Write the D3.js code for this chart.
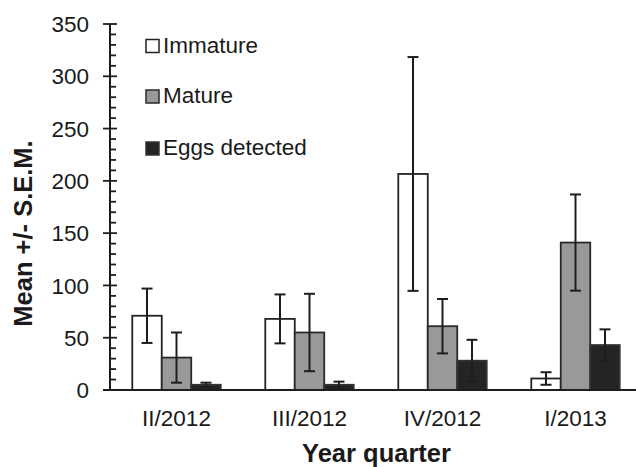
<!DOCTYPE html>
<html>
<head>
<meta charset="utf-8">
<script src="https://cdn.jsdelivr.net/npm/d3@7/dist/d3.min.js"></script>
<style>
  html, body { margin: 0; padding: 0; background: #fff; }
  svg { display: block; }
  text { font-family: "Liberation Sans", Arial, sans-serif; fill: #1a1a1a; }
</style>
</head>
<body>
<svg id="chart" width="636" height="467"></svg>
<script>
const categories = ["II/2012", "III/2012", "IV/2012", "I/2013"];
const seriesNames = ["Immature", "Mature", "Eggs detected"];
const immatureMean = [71, 68, 206.6, 11];
const immatureSem  = [26, 23.4, 111.8, 6];
const matureMean   = [31, 55, 61, 141];
const matureSem    = [24, 37, 26, 46];
const eggsMean     = [5, 5, 28, 43];
const eggsSem      = [2, 3, 20, 15];
const yTicks = [0, 50, 100, 150, 200, 250, 300, 350];

const means = [immatureMean, matureMean, eggsMean];
const sems = [immatureSem, matureSem, eggsSem];
const fills = ["#ffffff", "#999999", "#242424"];
const strokes = ["#222222", "#2a2a2a", "#333333"];

const svg = d3.select("#chart");

const y = d3.scaleLinear().domain([0, 350]).range([390, 24]);
const x = d3.scaleBand().domain(categories).range([110, 642])
  .paddingInner(0.335).paddingOuter(0.1675);
const xs = d3.scaleBand().domain(seriesNames).range([0, x.bandwidth()]);

// bars
seriesNames.forEach((s, si) => {
  const g = svg.append("g");
  categories.forEach((c, ci) => {
    const v = means[si][ci];
    g.append("rect")
      .attr("x", x(c) + xs(s))
      .attr("y", y(v))
      .attr("width", xs.bandwidth())
      .attr("height", y(0) - y(v))
      .attr("fill", fills[si])
      .attr("stroke", strokes[si])
      .attr("stroke-width", 1.8);
  });
});

// error bars
seriesNames.forEach((s, si) => {
  categories.forEach((c, ci) => {
    const cx = x(c) + xs(s) + xs.bandwidth() / 2;
    const hi = y(means[si][ci] + sems[si][ci]);
    const lo = y(Math.max(0, means[si][ci] - sems[si][ci]));
    const eb = svg.append("g").attr("stroke", "#1e1e1e").attr("stroke-width", 2);
    eb.append("line").attr("x1", cx).attr("x2", cx).attr("y1", hi).attr("y2", lo);
    eb.append("line").attr("x1", cx - 5.5).attr("x2", cx + 5.5).attr("y1", hi).attr("y2", hi);
    eb.append("line").attr("x1", cx - 5.5).attr("x2", cx + 5.5).attr("y1", lo).attr("y2", lo);
  });
});

// y axis: minor ticks
const minor = d3.range(0, 351, 10).filter(v => v % 50 !== 0);
const yAxisG = svg.append("g").attr("stroke", "#1e1e1e");
yAxisG.append("line").attr("x1", 110).attr("x2", 110).attr("y1", y(350)).attr("y2", y(0)).attr("stroke-width", 2);
minor.forEach(v => {
  yAxisG.append("line").attr("x1", 110).attr("x2", 116).attr("y1", y(v)).attr("y2", y(v)).attr("stroke-width", 1.8);
});
yTicks.forEach(v => {
  yAxisG.append("line").attr("x1", 103).attr("x2", 117).attr("y1", y(v)).attr("y2", y(v)).attr("stroke-width", 1.8);
});
svg.append("g").selectAll("text").data(yTicks).join("text")
  .attr("x", 89).attr("y", d => y(d)).attr("dy", "0.36em")
  .attr("text-anchor", "end").attr("font-size", 22.5)
  .text(d => d);

// x axis baseline
svg.append("line").attr("x1", 103).attr("x2", 636).attr("y1", y(0)).attr("y2", y(0))
  .attr("stroke", "#1e1e1e").attr("stroke-width", 2);

// x tick labels
svg.append("g").selectAll("text").data(categories).join("text")
  .attr("x", d => x(d) + x.bandwidth() / 2).attr("y", 425.5)
  .attr("text-anchor", "middle").attr("font-size", 22.5)
  .text(d => d);

// axis titles
svg.append("text").attr("x", 376.5).attr("y", 461.5)
  .attr("text-anchor", "middle").attr("font-size", 25.5).attr("font-weight", "bold")
  .text("Year quarter");
svg.append("text").attr("transform", "translate(31.5,233.5) rotate(-90)")
  .attr("text-anchor", "middle").attr("font-size", 25.5).attr("font-weight", "bold")
  .text("Mean +/- S.E.M.");

// legend
const legendY = [52.5, 103, 155];
seriesNames.forEach((s, i) => {
  svg.append("rect").attr("x", 146).attr("y", legendY[i] - 13)
    .attr("width", 13).attr("height", 13)
    .attr("fill", fills[i]).attr("stroke", strokes[i]).attr("stroke-width", 1.5);
  svg.append("text").attr("x", 163).attr("y", legendY[i])
    .attr("font-size", 22.5).text(s);
});
</script>
</body>
</html>
